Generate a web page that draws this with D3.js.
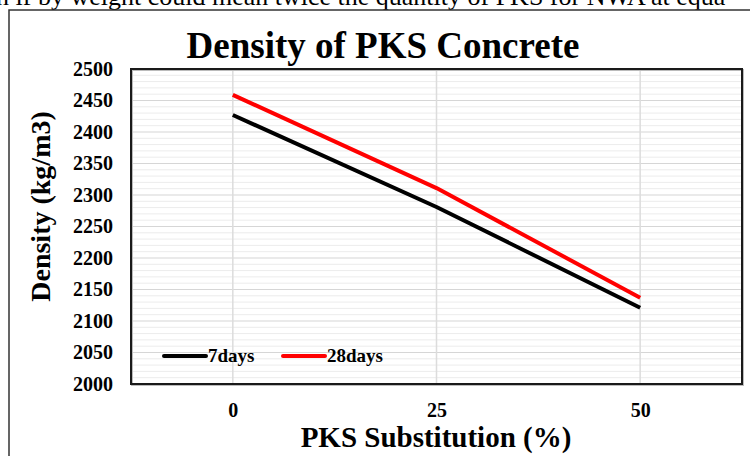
<!DOCTYPE html>
<html>
<head>
<meta charset="utf-8">
<script src="https://cdn.jsdelivr.net/npm/d3@7"></script>
<style>
  body { margin: 0; background: #fff; }
  svg { display: block; font-family: "Liberation Serif", "Times New Roman", serif; }
</style>
</head>
<body>
<div id="chart"></div>
<script>
// data
const categories = ["0", "25", "50"];
const seriesNames = ["7days", "28days"];
const seriesColors = ["#000000", "#ff0000"];
const days7 = [2427, 2281, 2121];
const days28 = [2459, 2311, 2137];
const yTicks = [2000, 2050, 2100, 2150, 2200, 2250, 2300, 2350, 2400, 2450, 2500];

const width = 750, height = 456;
const margin = { left: 131, top: 69, right: 8, bottom: 72 };

const svg = d3.select("#chart").append("svg")
    .attr("width", width)
    .attr("height", height);

// cut-off line of body text above the figure (cropped like in the source)
svg.append("text")
    .attr("x", -4)
    .attr("y", 5)
    .style("font-size", "26px")
    .text("n if by weight could mean twice the quantity of PKS for NWA at equa");

// figure frame
svg.append("path")
    .attr("d", `M9,${height} V10 H${width}`)
    .attr("fill", "none")
    .attr("stroke", "#333")
    .attr("stroke-width", 1.5);

const x = d3.scalePoint()
    .domain(categories)
    .range([margin.left, width - margin.right])
    .padding(0.5);

const y = d3.scaleLinear()
    .domain([2000, 2500])
    .range([height - margin.bottom, margin.top]);

// minor gridlines
svg.append("g")
    .selectAll("line")
    .data(d3.range(2010, 2500, 10).filter(v => v % 50 !== 0))
    .join("line")
    .attr("x1", margin.left).attr("x2", width - margin.right)
    .attr("y1", d => y(d)).attr("y2", d => y(d))
    .attr("stroke", "#ececec")
    .attr("stroke-width", 1);

// major gridlines
svg.append("g")
    .selectAll("line")
    .data(yTicks)
    .join("line")
    .attr("x1", margin.left).attr("x2", width - margin.right)
    .attr("y1", d => y(d)).attr("y2", d => y(d))
    .attr("stroke", "#d6d6d6")
    .attr("stroke-width", 1.2);

// vertical gridlines at categories
svg.append("g")
    .selectAll("line")
    .data(categories)
    .join("line")
    .attr("x1", d => x(d)).attr("x2", d => x(d))
    .attr("y1", margin.top).attr("y2", height - margin.bottom)
    .attr("stroke", "#dcdcdc")
    .attr("stroke-width", 1.5);

// plot border
svg.append("rect")
    .attr("x", margin.left + 1)
    .attr("y", margin.top + 1)
    .attr("width", width - margin.left - margin.right)
    .attr("height", height - margin.top - margin.bottom)
    .attr("fill", "none")
    .attr("stroke", "#bbb")
    .attr("stroke-width", 2);
svg.append("rect")
    .attr("x", margin.left)
    .attr("y", margin.top)
    .attr("width", width - margin.left - margin.right)
    .attr("height", height - margin.top - margin.bottom)
    .attr("fill", "none")
    .attr("stroke", "#1a1a1a")
    .attr("stroke-width", 2);

// axes
const yAxis = d3.axisLeft(y).tickValues(yTicks).tickFormat(d3.format("d")).tickSize(0).tickPadding(18);
svg.append("g")
    .attr("transform", `translate(${margin.left},0)`)
    .call(yAxis)
    .call(g => g.select(".domain").remove())
    .selectAll("text")
    .attr("font-family", "Liberation Serif")
    .style("font-size", "20px")
    .style("font-weight", "bold")
    .attr("fill", "#000");

const xAxis = d3.axisBottom(x).tickSize(0).tickPadding(19);
svg.append("g")
    .attr("transform", `translate(0,${height - margin.bottom})`)
    .call(xAxis)
    .call(g => g.select(".domain").remove())
    .selectAll("text")
    .attr("font-family", "Liberation Serif")
    .style("font-size", "20px")
    .style("font-weight", "bold")
    .attr("fill", "#000");

// lines
const line = d3.line()
    .x((d, i) => x(categories[i]))
    .y(d => y(d));

[days7, days28].forEach((vals, i) => {
    svg.append("path")
        .datum(vals)
        .attr("fill", "none")
        .attr("stroke", seriesColors[i])
        .attr("stroke-width", 4)
        .attr("stroke-linejoin", "round")
        .attr("d", line);
});

// legend
const legend = svg.append("g")
    .attr("transform", `translate(164,356)`);
const legendX = [0, 119];
seriesNames.forEach((name, i) => {
    legend.append("line")
        .attr("x1", legendX[i]).attr("x2", legendX[i] + 42)
        .attr("y1", 0).attr("y2", 0)
        .attr("stroke", seriesColors[i])
        .attr("stroke-width", 4)
        .attr("stroke-linecap", "round");
    legend.append("text")
        .attr("x", legendX[i] + 44)
        .attr("y", 6)
        .style("font-size", "19px")
        .style("font-weight", "bold")
        .text(name);
});

// titles
svg.append("text")
    .attr("x", 383)
    .attr("y", 58)
    .attr("text-anchor", "middle")
    .style("font-size", "37px")
    .style("font-weight", "bold")
    .text("Density of PKS Concrete");

svg.append("text")
    .attr("x", 436)
    .attr("y", 447)
    .attr("text-anchor", "middle")
    .style("font-size", "29px")
    .style("font-weight", "bold")
    .text("PKS Substitution (%)");

svg.append("text")
    .attr("transform", `translate(50,${(margin.top + height - margin.bottom) / 2 - 20}) rotate(-90)`)
    .attr("text-anchor", "middle")
    .style("font-size", "28px")
    .style("font-weight", "bold")
    .text("Density (kg/m3)");
</script>
</body>
</html>
